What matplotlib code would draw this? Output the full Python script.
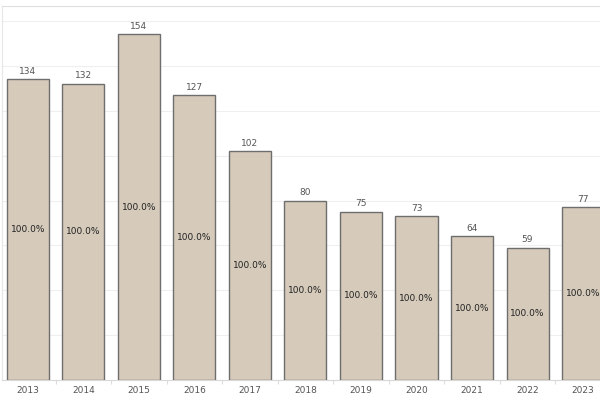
import matplotlib.pyplot as plt
import numpy as np

years = ["2013", "2014", "2015", "2016", "2017", "2018", "2019", "2020", "2021", "2022", "2023"]
counts = [134, 132, 154, 127, 102, 80, 75, 73, 64, 59, 77]
shares = ["100.0%"] * len(years)

fig = plt.figure(figsize=(6, 4), dpi=100)
ax = fig.add_axes([0.0033, 0.05, 0.9967, 0.935])

x = np.arange(len(years))
bars = ax.bar(x, counts, width=0.757, color="#d6cbbb", edgecolor="#6e6e6e", linewidth=1, zorder=3)

for xi, v, s in zip(x, counts, shares):
    ax.text(xi, v + 1.5, str(v), ha="center", va="bottom", fontsize=6.5, color="#555555")
    ax.text(xi, v / 2, s, ha="center", va="center", fontsize=6.5, color="#222222")

ax.set_xlim(-0.468, 10.306)
ax.set_ylim(0, 166.7)
ax.set_yticks(np.arange(20, 161, 20))
ax.yaxis.grid(True, color="#efefef", linewidth=0.8, zorder=0)
ax.tick_params(axis="y", length=0, labelleft=False)

ax.set_xticks(x)
ax.set_xticklabels(years, fontsize=6.5, color="#555555")
ax.tick_params(axis="x", which="major", length=0, pad=4)
ax.set_xticks(x[:-1] + 0.5, minor=True)
ax.tick_params(axis="x", which="minor", length=3, color="#dddddd", width=0.8)

for side in ["right"]:
    ax.spines[side].set_visible(False)
ax.spines["top"].set_color("#e0e0e0")
ax.spines["left"].set_color("#e6e6e6")
ax.spines["bottom"].set_color("#d8d8d8")

fig.savefig("out.png", dpi=100)
